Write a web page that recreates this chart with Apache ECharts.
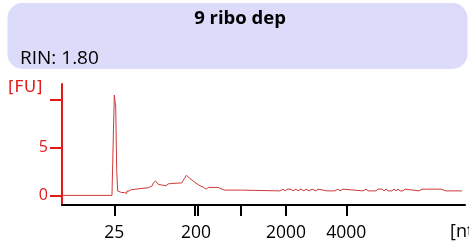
<!DOCTYPE html>
<html>
<head>
<meta charset="utf-8">
<script src="https://cdn.jsdelivr.net/npm/echarts@6/dist/echarts.min.js"></script>
<style>
html,body{margin:0;padding:0;background:#fff;}
#chart{width:469px;height:245px;}
</style>
</head>
<body>
<div id="chart"></div>
<script>
// ---- data (migration time in s, fluorescence in FU) ----
const title = '9 ribo dep';
const rinText = 'RIN: 1.80';
const yTickValues = [0, 5, 10];
const yLabelValues = [0, 5];
const xTickTimes = [26.49, 36.41, 36.84, 42.12, 47.79, 55.27];
const xLabelTimes = [26.49, 36.62, 47.79, 55.27];
const xLabelTexts = ['25', '200', '2000', '4000'];
const trace = [
  [20,0],[26.20,0],[26.29,3.3],[26.39,7.0],[26.49,10.45],[26.58,9.8],[26.66,9.3],[26.79,2.6],[26.91,0.45],
  [27.11,0.37],[27.41,0.3],[27.73,0.3],[27.76,0.2],[28.03,0.2],[28.06,0.45],[28.31,0.45],[28.35,0.6],[28.6,0.6],
  [28.65,0.8],[30.71,0.8],[30.72,1.0],[31.2,1.0],[31.33,1.3],[31.6,1.5],[31.8,1.3],[31.95,1.15],[32.1,1.0],
  [32.9,1.0],[32.92,1.2],[33.19,1.2],[33.3,1.1],[33.4,1.1],[33.42,1.25],[33.77,1.25],[33.8,1.3],[34.85,1.3],
  [35.17,1.75],[35.45,2.1],[35.6,2.0],[35.79,1.8],[36.13,1.6],[36.5,1.35],[36.71,1.2],[37.12,1.0],[37.53,0.85],
  [37.9,0.65],[37.95,0.62],[38.15,0.83],[39.39,0.83],[39.73,0.68],[40.22,0.55],[41.87,0.55],[41.88,0.68],
  [42.0,0.68],[42.01,0.55],[42.3,0.55],[42.32,0.47],[47.05,0.47],
  [47.05,0.65],[47.42,0.65],[47.42,0.47],[47.67,0.47],[47.67,0.65],[47.92,0.65],[47.92,0.47],[48.16,0.47],
  [48.16,0.65],[48.41,0.65],[48.41,0.47],[48.66,0.47],[48.66,0.65],[49.03,0.65],[49.03,0.47],[49.28,0.47],
  [49.28,0.65],[49.65,0.65],[49.65,0.47],[50.02,0.47],[50.02,0.65],[50.27,0.65],[50.27,0.47],[50.65,0.47],
  [50.65,0.65],[51.02,0.65],[51.02,0.47],[51.51,0.47],[51.51,0.65],[51.76,0.65],[51.76,0.47],[52.88,0.47],
  [52.88,0.65],[53.0,0.65],[53.0,0.47],[53.87,0.47],[53.87,0.65],[54.24,0.65],[54.24,0.47],[54.49,0.47],
  [54.49,0.65],[54.86,0.65],[54.86,0.47],[57.35,0.47],[57.35,0.65],[57.72,0.65],[57.72,0.47],[57.97,0.47],
  [57.97,0.65],[58.21,0.65],[58.21,0.47],[58.46,0.47],[58.58,0.65],[58.71,0.47],[58.96,0.47],[58.96,0.65],
  [59.21,0.65],[59.21,0.47],[59.45,0.47],[59.45,0.65],[59.70,0.65],[59.70,0.47],[59.95,0.47],[59.95,0.65],
  [60.20,0.65],[60.20,0.47],[60.45,0.47],[60.45,0.65],[60.69,0.65],[60.69,0.47],[60.94,0.47],[60.94,0.65],
  [61.19,0.65],[61.19,0.47],[61.44,0.47],[61.44,0.65],[61.69,0.65],[61.69,0.47],[61.94,0.47],[61.94,0.65],
  [62.18,0.65],[62.18,0.47],[62.31,0.47],[62.31,0.65],[62.56,0.65],[62.56,0.47],[64.29,0.47],[64.29,0.65],
  [64.67,0.65],[64.67,0.47],[64.91,0.47],[64.91,0.65],[65.29,0.65],[65.29,0.47],[65.53,0.47],[65.53,0.65],
  [65.91,0.65],[65.91,0.47],[66.15,0.47],[66.15,0.65],[66.53,0.65],[66.53,0.47],[66.77,0.47],[66.77,0.65],
  [67.02,0.65],[67.02,0.47],[67.64,0.47],[67.64,0.65],[67.76,0.65],[67.76,0.47],[69.63,0.47]
];

const RED = '#e31a1a';
const FONT = "'Open Sans', 'Noto Sans', sans-serif";
const chart = echarts.init(document.getElementById('chart'), null, {renderer: 'canvas'});
chart.setOption({
  animation: false,
  backgroundColor: '#fff',
  graphic: [
    {type: 'rect', shape: {x: 7.5, y: 3, width: 460, height: 66, r: 15}, style: {fill: '#dcdbfa'}, z: -1},
    {type: 'text', x: 240, y: 19, style: {text: title, font: "bold 18.5px " + FONT, fill: '#000', align: 'center', verticalAlign: 'middle'}},
    {type: 'text', x: 20, y: 59, style: {text: rinText, font: "19px " + FONT, fill: '#000', align: 'left', verticalAlign: 'middle'}},
    {type: 'text', x: 8, y: 88, style: {text: '[FU]', font: "16.5px 'DejaVu Sans', sans-serif", fill: RED, align: 'left', verticalAlign: 'middle'}},
    {type: 'text', x: 450, y: 232, style: {text: '[nt]', font: "18px " + FONT, fill: '#000', align: 'left', verticalAlign: 'middle'}}
  ],
  grid: {left: 62, right: 4, top: 84, bottom: 40, containLabel: false},
  xAxis: {
    type: 'value', min: 20, max: 70,
    axisLine: {show: true, onZero: false, lineStyle: {color: '#000', width: 2}},
    axisTick: {show: true, length: 11, customValues: xTickTimes, lineStyle: {color: '#000', width: 2}},
    axisLabel: {
      show: true, customValues: xLabelTimes, margin: 19, color: '#000', fontSize: 17.5, fontFamily: FONT,
      formatter: v => { const i = xLabelTimes.findIndex(t => Math.abs(t - v) < 1e-6); return i >= 0 ? xLabelTexts[i] : ''; }
    },
    splitLine: {show: false}
  },
  yAxis: {
    type: 'value', min: -1, max: 11.6,
    axisLine: {show: true, lineStyle: {color: RED, width: 2}},
    axisTick: {show: true, length: 12, customValues: yTickValues, lineStyle: {color: RED, width: 2}},
    axisLabel: {show: true, customValues: yLabelValues, margin: 14, color: RED, fontSize: 16, fontFamily: FONT},
    splitLine: {show: false}
  },
  series: [{
    type: 'line', data: trace, showSymbol: false, symbol: 'none',
    lineStyle: {color: '#d03a3a', width: 1}, clip: true
  }]
});
</script>
</body>
</html>
